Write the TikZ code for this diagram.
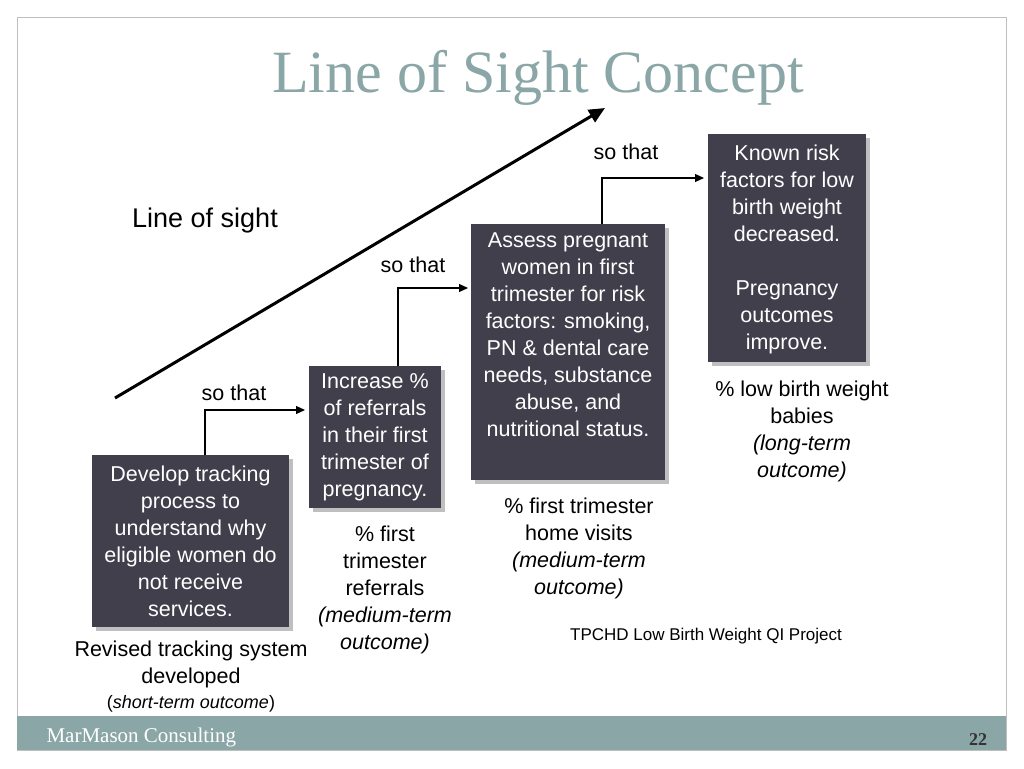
\documentclass[tikz,border=0pt]{standalone}
\usepackage{fontspec}
\setmainfont{Liberation Sans}
\newfontfamily\serif{Liberation Serif}
\usetikzlibrary{arrows.meta}
\definecolor{boxc}{HTML}{423F4C}
\definecolor{teal}{HTML}{8AA6A6}
\tikzset{
 dbox/.style={fill=boxc,inner sep=0pt},
 btxt/.style={text=white,align=center,inner sep=0pt,anchor=north,font=\fontsize{21.5}{27}\selectfont},
 lab/.style={align=center,font=\fontsize{21.5}{27}\selectfont},
 conn/.style={draw,line width=1.2pt,-{Triangle[length=9pt,width=8pt]}},
}
\begin{document}
\begin{tikzpicture}[x=1pt,y=-1pt]
\useasboundingbox (0,0) rectangle (1024,768);
\fill[white] (0,0) rectangle (1024,768);
\draw[gray!50] (17,17) rectangle (1006,750);
\fill[teal] (17,716) rectangle (1006,750);
\node[anchor=west,text=white,font=\serif\fontsize{21}{24}\selectfont] (foot) at (43,737) {MarMason Consulting};
\node[text=black!80,font=\serif\bfseries\fontsize{18}{20}\selectfont] (pg) at (978,740) {22};
\node[text=teal,font=\serif\fontsize{60}{66}\selectfont] (title) at (538,78) {Line of Sight Concept};
\foreach \a/\b/\c/\d in {92/455/289/627,309/366/441/508,471/224/665/480,708/134/866/362}
 \fill[black!25] (\a+4,\b+4) rectangle (\c+4,\d+4);
\node[dbox,minimum width=197pt,minimum height=172pt] (b1) at (190.5,541) {};
\node[dbox,minimum width=132pt,minimum height=142pt] (b2) at (375,437) {};
\node[dbox,minimum width=194pt,minimum height=256pt] (b3) at (568,352) {};
\node[dbox,minimum width=158pt,minimum height=228pt] (b4) at (787,248) {};
\node[btxt] (t1x) at ([yshift=-11pt]b1.north) {Develop tracking\\process to\\understand why\\eligible women do\\not receive\\services.};
\node[btxt] (t2x) at ([yshift=-8pt]b2.north) {Increase \%\\of referrals\\in their first\\trimester of\\pregnancy.};
\node[btxt] (t3x) at ([yshift=-9pt]b3.north) {Assess pregnant\\women in first\\trimester for risk\\factors: smoking,\\PN \& dental care\\needs, substance\\abuse, and\\nutritional status.};
\node[btxt] (t4x) at ([yshift=-11pt]b4.north) {Known risk\\factors for low\\birth weight\\decreased.\\[27pt]Pregnancy\\outcomes\\improve.};
\coordinate (s1) at (205,455); \coordinate (t1) at (305,410);
\coordinate (s2) at (398,366); \coordinate (t2) at (468,288);
\coordinate (s3) at (602,224); \coordinate (t3) at (704,178);
\draw[conn] (s1) |- (t1);
\draw[conn] (s2) |- (t2);
\draw[conn] (s3) |- (t3);
\node[lab] (so1) at (234,393) {so that};
\node[lab] (so2) at (413,265) {so that};
\node[lab] (so3) at (626,152) {so that};
\coordinate (l1) at (115,398); \coordinate (l2) at (605,108);
\draw[line width=3pt,-{Triangle[length=16pt,width=14pt]}] (l1) -- (l2);
\node[font=\fontsize{27}{30}\selectfont] (los) at (205,221) {Line of sight};
\node[lab] (o1) at (191,677) {Revised tracking system\\developed\\[-2pt]{\fontsize{18}{20}\selectfont(\textit{short-term outcome})}};
\node[lab] (o2) at (385,590) {\% first\\trimester\\referrals\\\textit{(medium-term}\\\textit{outcome)}};
\node[lab] (o3) at (579,548) {\% first trimester\\home visits\\\textit{(medium-term}\\\textit{outcome)}};
\node[lab] (o4) at (802,431) {\% low birth weight\\babies\\\textit{(long-term}\\\textit{outcome)}};
\node[font=\fontsize{17}{18}\selectfont] (tp) at (706,636) {TPCHD Low Birth Weight QI Project};
\end{tikzpicture}
\end{document}
